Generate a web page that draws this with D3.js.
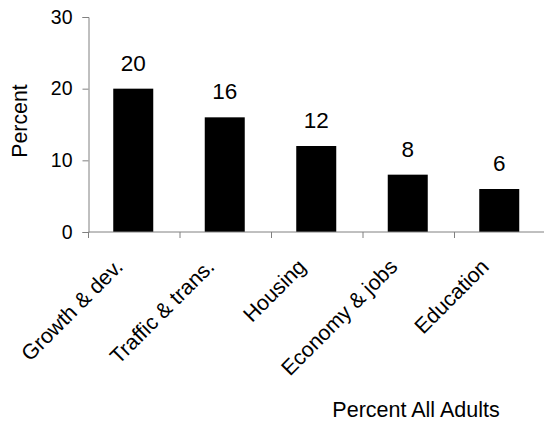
<!DOCTYPE html>
<html>
<head>
<meta charset="utf-8">
<script src="https://cdn.jsdelivr.net/npm/d3@7"></script>
<style>
  html, body { margin: 0; padding: 0; background: #fff; }
  svg { display: block; font-family: Arial, "Liberation Sans", sans-serif; }
</style>
</head>
<body>
<svg id="chart" width="544" height="423"></svg>
<script>
const categories = ["Growth & dev.", "Traffic & trans.", "Housing", "Economy & jobs", "Education"];
const values = [20, 16, 12, 8, 6];
const yTicks = [0, 10, 20, 30];
const yTitle = "Percent";
const xTitle = "Percent All Adults";

(function () {
const svg = d3.select("#chart");
const mLeft = 88.5, mRight = 546, mTop = 17, mBottom = 232;

const x = d3.scaleBand().domain(categories).range([mLeft, mRight]).padding(0);
const y = d3.scaleLinear().domain([0, 30]).range([mBottom, mTop]);
const barW = 40;
const axisColor = "#808080";

// bars
svg.append("g").selectAll("rect")
  .data(categories)
  .join("rect")
  .attr("x", (d) => x(d) + (x.bandwidth() - barW) / 2 - 1)
  .attr("y", (d, i) => y(values[i]))
  .attr("width", barW)
  .attr("height", (d, i) => y(0) - y(values[i]))
  .attr("fill", "#000");

// value labels
svg.append("g").selectAll("text")
  .data(categories)
  .join("text")
  .attr("x", (d) => x(d) + x.bandwidth() / 2 - 1)
  .attr("y", (d, i) => y(values[i]) - 18)
  .attr("text-anchor", "middle")
  .attr("font-size", "22.5px")
  .attr("fill", "#000")
  .text((d, i) => values[i]);

// y axis
const yAxis = svg.append("g")
  .attr("transform", `translate(${mLeft},0)`)
  .call(d3.axisLeft(y).tickValues(yTicks).tickSize(6).tickPadding(10));
yAxis.select(".domain").attr("stroke", axisColor);
yAxis.selectAll(".tick line").attr("stroke", axisColor);
yAxis.selectAll(".tick text").attr("font-size", "19.5px").attr("fill", "#000")
  .attr("font-family", "Arial, 'Liberation Sans', sans-serif");

// x axis
const xAxisG = svg.append("g").attr("transform", `translate(0,${mBottom})`);
xAxisG.append("line")
  .attr("x1", mLeft).attr("x2", mRight)
  .attr("y1", 0).attr("y2", 0)
  .attr("stroke", axisColor);
const boundaries = categories.map((d) => x(d)).concat([x(categories[categories.length - 1]) + x.bandwidth()]);
xAxisG.selectAll("line.tk")
  .data(boundaries)
  .join("line")
  .attr("class", "tk")
  .attr("x1", (d) => d).attr("x2", (d) => d)
  .attr("y1", 0).attr("y2", 6)
  .attr("stroke", axisColor);

// category labels rotated
svg.append("g").selectAll("text")
  .data(categories)
  .join("text")
  .attr("transform", (d) => `translate(${x(d) + x.bandwidth() / 2 - 10},${mBottom + 36}) rotate(-45)`)
  .attr("text-anchor", "end")
  .attr("font-size", "21.3px")
  .attr("fill", "#000")
  .text((d) => d);

// y title
svg.append("text")
  .attr("transform", `translate(27,121) rotate(-90)`)
  .attr("text-anchor", "middle")
  .attr("font-size", "21.3px")
  .attr("fill", "#000")
  .text(yTitle);

// x title
svg.append("text")
  .attr("x", 416)
  .attr("y", 417)
  .attr("text-anchor", "middle")
  .attr("font-size", "21.5px")
  .attr("fill", "#000")
  .text(xTitle);
})();
</script>
</body>
</html>
